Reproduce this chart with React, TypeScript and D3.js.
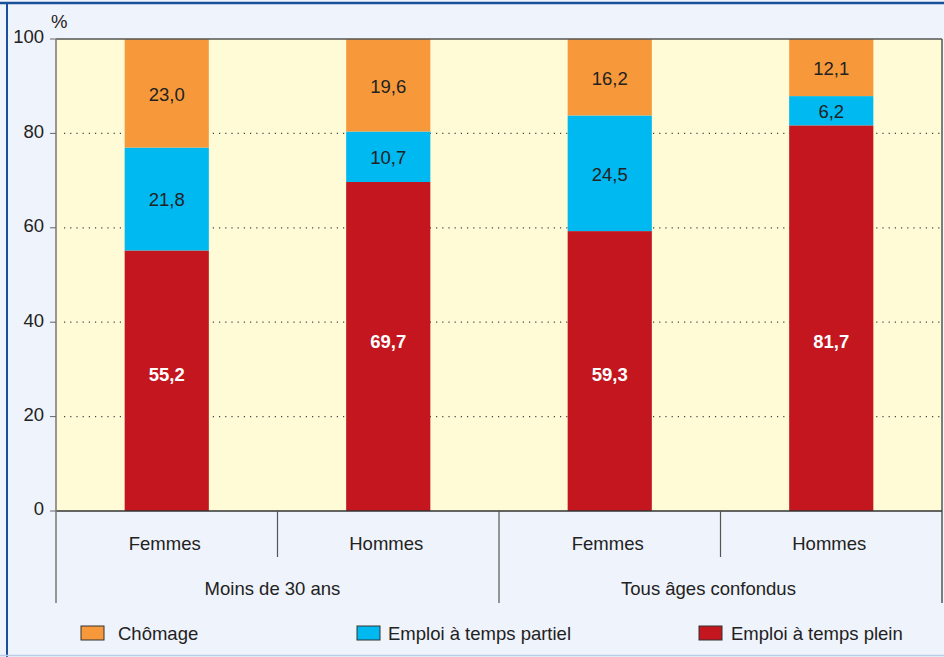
import React, { useEffect } from 'react';
import * as d3 from 'd3';

const categories = ['Femmes', 'Hommes', 'Femmes', 'Hommes'];
const groups = ['Moins de 30 ans', 'Tous âges confondus'];
const pleinValues = [55.2, 69.7, 59.3, 81.7];
const partielValues = [21.8, 10.7, 24.5, 6.2];
const chomageValues = [23.0, 19.6, 16.2, 12.1];
const yTicks = [0, 20, 40, 60, 80, 100];
// where the white labels of the red segments sit, in % units
const pleinLabelAt = [29, 36, 29, 36];

const seriesNames = ['Emploi à temps plein', 'Emploi à temps partiel', 'Chômage'];
const seriesColors = ['#c3161e', '#00b9f1', '#f7993a'];

const fmt = (v: number) => v.toFixed(1).replace('.', ',');

export default function App() {
  useEffect(() => {
    document.body.style.margin = '0';
  }, []);

  const width = 944;
  const height = 657;
  const left = 56;
  const right = 942;
  const top = 39;
  const bottom = 511;
  const font = '"Liberation Sans", Arial, sans-serif';
  const fs = 18.5;

  const idx = categories.map((_, i) => i);
  const x = d3.scaleBand<number>().domain(idx).range([left, right]).paddingInner(0).paddingOuter(0);
  const barW = x.bandwidth() * 0.38;
  const y = d3.scaleLinear().domain([0, 100]).range([bottom, top]);

  const rows = idx.map((i) => ({
    i,
    plein: pleinValues[i],
    partiel: partielValues[i],
    chomage: chomageValues[i],
  }));
  const keys = ['plein', 'partiel', 'chomage'];
  const stack = d3.stack<any>().keys(keys)(rows);

  const legendItems = [
    { name: seriesNames[2], color: seriesColors[2], x: 81, tx: 118 },
    { name: seriesNames[1], color: seriesColors[1], x: 357, tx: 388 },
    { name: seriesNames[0], color: seriesColors[0], x: 699, tx: 731 },
  ];
  const groupShift = [-5, -12];

  return (
    <svg width={width} height={height} style={{ display: 'block' }} fontFamily={font}>
      <rect x={0} y={0} width={width} height={height} fill="#eff3fb" />
      <line x1={0} x2={width} y1={3} y2={3} stroke="#1a4f9c" strokeWidth={2.5} />
      <line x1={7} x2={7} y1={3} y2={height} stroke="#1a4f9c" strokeWidth={2} />
      <line x1={0} x2={width} y1={655.5} y2={655.5} stroke="#b9cde8" strokeWidth={1.5} />

      <rect x={left} y={top} width={right - left} height={bottom - top} fill="#fffbd6" />

      {yTicks.filter((t) => t > 0 && t < 100).map((t) => (
        <line key={'g' + t} x1={left + 8} x2={right} y1={y(t)} y2={y(t)}
          stroke="#444" strokeWidth={1.2} strokeDasharray="1.2,5" />
      ))}

      {stack.map((s, si) => (
        <g key={s.key}>
          {s.map((d, i) => (
            <rect key={i} x={(x(i) as number) + (x.bandwidth() - barW) / 2} width={barW}
              y={y(d[1])} height={y(d[0]) - y(d[1])} fill={seriesColors[si]} />
          ))}
        </g>
      ))}

      {stack.map((s, si) => s.map((d, i) => {
        const v = d[1] - d[0];
        const cy = si === 0 ? y(pleinLabelAt[i]) : (y(d[0]) + y(d[1])) / 2 + 1;
        return (
          <text key={s.key + i} x={(x(i) as number) + x.bandwidth() / 2} y={cy} dy="0.35em"
            textAnchor="middle" fontSize={fs} fontWeight={si === 0 ? 'bold' : 'normal'}
            fill={si === 0 ? '#ffffff' : '#222'}>{fmt(v)}</text>
        );
      }))}

      <line x1={left} x2={right} y1={top} y2={top} stroke="#555" strokeWidth={1.5} />
      <line x1={right} x2={right} y1={top} y2={603} stroke="#555" strokeWidth={1.5} />
      <line x1={left} x2={right} y1={bottom} y2={bottom} stroke="#333" strokeWidth={1.5} />
      <line x1={left} x2={left} y1={top} y2={603} stroke="#777" strokeWidth={1.5} />

      {yTicks.map((t) => (
        <g key={'t' + t}>
          <line x1={50} x2={left} y1={y(t)} y2={y(t)} stroke="#666" strokeWidth={1} />
          <text x={44} y={y(t) - 2} dy="0.35em" textAnchor="end" fontSize={fs} fill="#222">{t}</text>
        </g>
      ))}
      <text x={51} y={28} fontSize={fs} fill="#222">%</text>

      {idx.slice(1).map((i) => (
        <line key={'s' + i} x1={x(i) as number} x2={x(i) as number} y1={bottom} y2={i === 2 ? 603 : 557}
          stroke="#555" strokeWidth={1.2} />
      ))}

      {categories.map((c, i) => (
        <text key={'c' + i} x={(x(i) as number) + x.bandwidth() / 2 - 2} y={550} textAnchor="middle"
          fontSize={fs} fill="#222">{c}</text>
      ))}
      {groups.map((g, gi) => (
        <text key={'gr' + gi} x={(x(gi * 2) as number) + x.bandwidth() + groupShift[gi]} y={595}
          textAnchor="middle" fontSize={fs} fill="#222">{g}</text>
      ))}

      {legendItems.map((l) => (
        <g key={l.name}>
          <rect x={l.x} y={626} width={23} height={14} fill={l.color} stroke="#333" strokeWidth={1} />
          <text x={l.tx} y={640} fontSize={fs} fill="#222">{l.name}</text>
        </g>
      ))}
    </svg>
  );
}
